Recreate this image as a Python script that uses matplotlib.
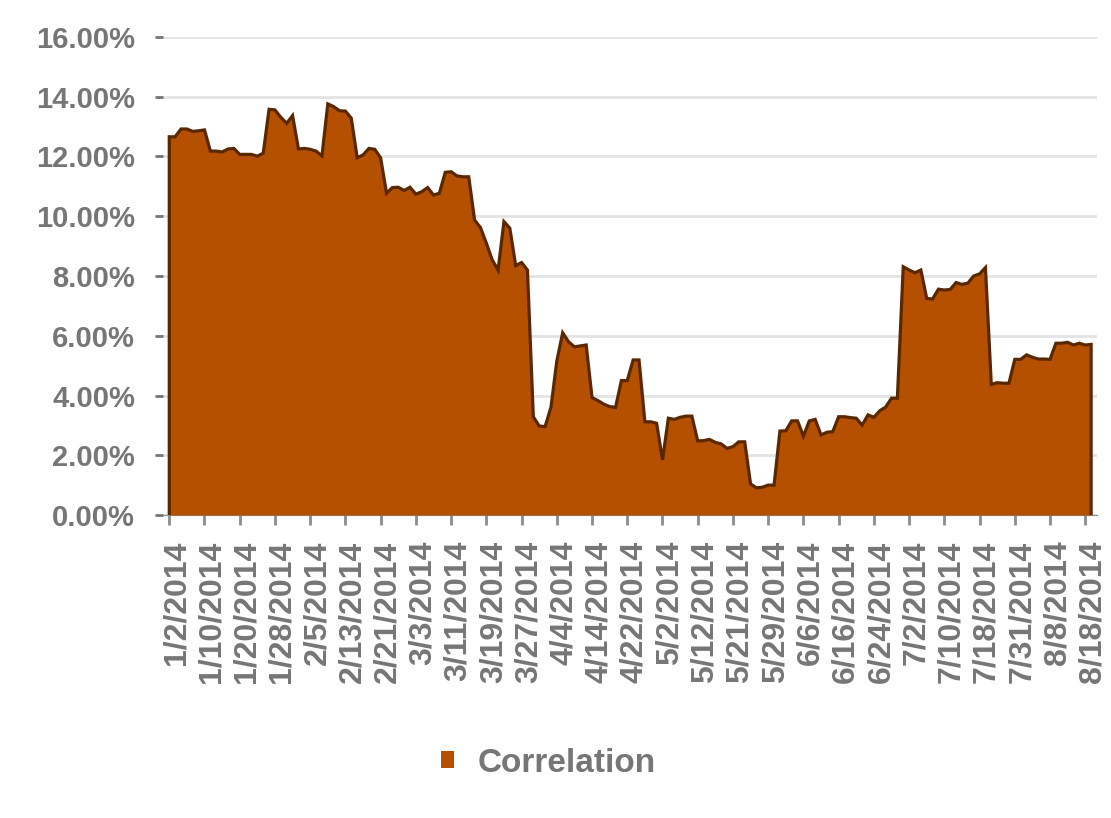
import matplotlib.pyplot as plt
from matplotlib.patches import Patch
from matplotlib.transforms import ScaledTranslation
from matplotlib.ticker import FuncFormatter
import numpy as np

plt.rcParams["font.family"] = ["Liberation Sans", "DejaVu Sans"]
plt.rcParams["font.weight"] = "bold"

# labels shown every 6th trading day
tick_labels = ["1/2/2014", "1/10/2014", "1/20/2014", "1/28/2014", "2/5/2014",
               "2/13/2014", "2/21/2014", "3/3/2014", "3/11/2014", "3/19/2014",
               "3/27/2014", "4/4/2014", "4/14/2014", "4/22/2014", "5/2/2014",
               "5/12/2014", "5/21/2014", "5/29/2014", "6/6/2014", "6/16/2014",
               "6/24/2014", "7/2/2014", "7/10/2014", "7/18/2014", "7/31/2014",
               "8/8/2014", "8/18/2014"]

# correlation in percent, one value per trading day
correlation = [
    12.66, 12.66, 12.92, 12.92, 12.84, 12.86, 12.89, 12.18, 12.18, 12.15,
    12.25, 12.27, 12.07, 12.07, 12.07, 12.01, 12.11, 13.58, 13.56, 13.31,
    13.11, 13.37, 12.25, 12.27, 12.24, 12.18, 12.02, 13.76, 13.67, 13.53,
    13.52, 13.28, 11.96, 12.05, 12.27, 12.24, 11.95, 10.77, 10.96, 10.97,
    10.86, 10.97, 10.74, 10.82, 10.96, 10.71, 10.77, 11.47, 11.49, 11.35,
    11.32, 11.32, 9.87, 9.62, 9.10, 8.54, 8.20, 9.82, 9.60, 8.35,
    8.45, 8.20, 3.29, 2.98, 2.96, 3.60, 5.15, 6.10, 5.80, 5.63,
    5.66, 5.69, 3.93, 3.83, 3.71, 3.63, 3.60, 4.50, 4.50, 5.19,
    5.19, 3.12, 3.12, 3.07, 1.84, 3.24, 3.20, 3.27, 3.31, 3.31,
    2.48, 2.49, 2.53, 2.43, 2.38, 2.23, 2.29, 2.45, 2.45, 1.04,
    0.91, 0.93, 1.00, 1.00, 2.81, 2.82, 3.15, 3.15, 2.64, 3.15,
    3.20, 2.68, 2.77, 2.79, 3.29, 3.29, 3.26, 3.24, 3.01, 3.35,
    3.27, 3.49, 3.61, 3.91, 3.91, 8.31, 8.20, 8.11, 8.20, 7.25,
    7.23, 7.56, 7.53, 7.55, 7.78, 7.72, 7.76, 8.00, 8.07, 8.28,
    4.37, 4.43, 4.41, 4.41, 5.21, 5.21, 5.36, 5.28, 5.22, 5.22,
    5.21, 5.75, 5.75, 5.78, 5.69, 5.75, 5.69, 5.71,
]

fill_color = "#b45000"
edge_color = "#5a2800"
text_color = "#767676"

x = np.arange(len(correlation))
y = np.array(correlation)

fig = plt.figure(figsize=(11.11, 8.18), dpi=100)
ax = fig.add_axes([0.1467, 0.3704, 0.8407, 0.5844])

ax.fill_between(x, 0, y, color=fill_color, linewidth=0, zorder=3)
ax.plot(np.r_[x[0], x, x[-1]], np.r_[0, y, 0], color=edge_color, lw=2.3,
        solid_joinstyle="miter", zorder=4)

ax.set_xlim(-1.07, 158.0)
ax.set_ylim(0, 16)
ax.set_yticks(np.arange(0, 17, 2))
ax.yaxis.set_major_formatter(FuncFormatter(lambda v, p: f"{v:.2f}%"))
ax.set_xticks(x[::6])
ax.set_xticklabels(tick_labels, rotation=90)

ax.set_axisbelow(True)
ax.grid(axis="y", color="#e3e3e3", lw=2)
for s in ["top", "right", "left"]:
    ax.spines[s].set_visible(False)
ax.spines["bottom"].set_color("#8c8c8c")

ax.tick_params(axis="y", length=6, width=2, color="#767676", pad=14,
               labelsize=21, labelcolor=text_color)
ax.tick_params(axis="x", length=7.5, width=2, color="#8c8c8c", pad=11,
               labelsize=23, labelcolor=text_color)
for lab in ax.get_xticklabels():
    lab.set_transform(lab.get_transform() + ScaledTranslation(7 / 100, 0, fig.dpi_scale_trans))

handle = Patch(facecolor=fill_color, edgecolor="none")
fig.legend([handle], ["Correlation"], loc="center", bbox_to_anchor=(0.4937, 0.067),
           frameon=False, fontsize=24, labelcolor=text_color,
           handlelength=0.4, handleheight=0.4, handletextpad=0.7)

fig.savefig("out.png", dpi=100)
